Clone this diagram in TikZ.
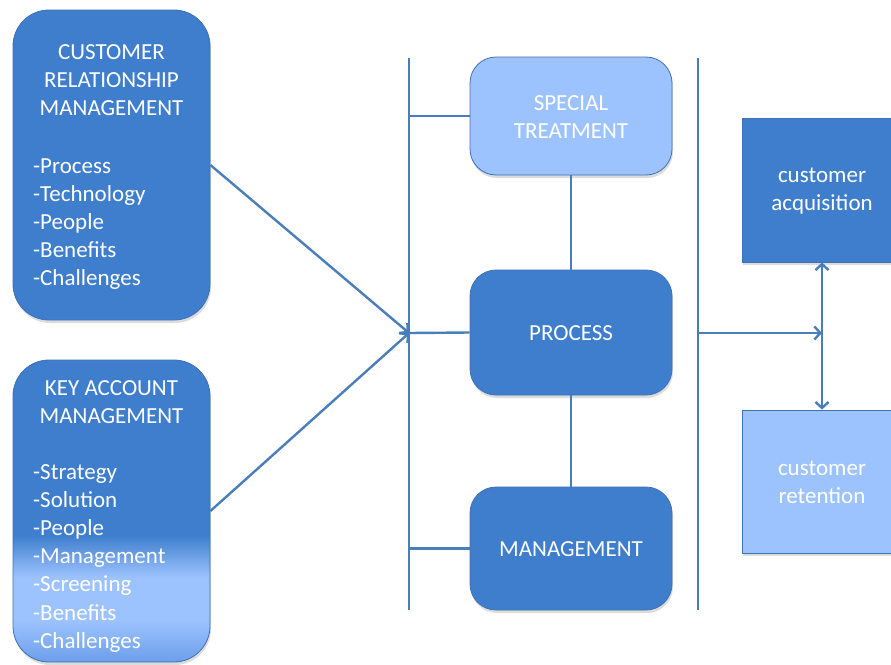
\documentclass[tikz,border=0pt]{standalone}
\usepackage{fontspec}
\setmainfont{Carlito}
\usetikzlibrary{arrows.meta,shadows}
\definecolor{boxdark}{RGB}{62,126,204}
\definecolor{boxlight}{RGB}{157,195,255}
\definecolor{boxmid}{RGB}{108,158,234}
\definecolor{wire}{RGB}{74,126,187}
\definecolor{rim}{RGB}{62,112,182}
% dark top, light band near the bottom, slightly deeper at the very bottom
\pgfdeclareverticalshading{kamshade}{100bp}{color(0bp)=(boxmid); color(25bp)=(boxmid); color(32bp)=(boxlight); color(39bp)=(boxlight); color(46bp)=(boxdark); color(100bp)=(boxdark)}

\begin{document}
\begin{tikzpicture}[x=1pt,y=-1pt,
  lbl/.style={font=\fontsize{23}{28.2}\selectfont, text=white, inner sep=0pt},
  softshadow/.style={drop shadow={opacity=0.28, shadow xshift=1pt, shadow yshift=-3pt}},
  panel/.style={draw=rim, line width=0.8pt, rounded corners=36pt, softshadow,
                minimum width=197pt, inner sep=0pt},
  stage/.style={draw=rim, line width=0.8pt, rounded corners=26pt, softshadow,
                minimum width=202pt, inner sep=0pt},
  outcome/.style={draw=rim, line width=0.8pt, softshadow,
                minimum width=160pt, inner sep=0pt},
  wireline/.style={draw=wire, line width=2.4pt},
  arr/.style={-{Straight Barb[length=6pt,width=13pt]}},
  darr/.style={{Straight Barb[length=6pt,width=13pt]}-{Straight Barb[length=6pt,width=13pt]}},
]
\useasboundingbox (0,0) rectangle (891,664);

% left panels
\node[panel, fill=boxdark, minimum height=310pt] (crm) at (111.5,165) {};
\node[panel, shading=kamshade, minimum height=302pt] (kam) at (111.5,511) {};

% multi-line labels are anchored at the baseline of their last line
\node[lbl, align=center, anchor=base] (crmhead) at (111.5,115.4) {CUSTOMER\\RELATIONSHIP\\MANAGEMENT};
\node[lbl, align=left, anchor=base west] (crmlist) at (33,285.8) {-Process\\-Technology\\-People\\-Benefits\\-Challenges};
\node[lbl, align=center, anchor=base] (kamhead) at (111.5,423.2) {KEY ACCOUNT\\MANAGEMENT};
\node[lbl, align=left, anchor=base west] (kamlist) at (33,648.2) {-Strategy\\-Solution\\-People\\-Management\\-Screening\\-Benefits\\-Challenges};

% middle stages
\node[stage, fill=boxlight, minimum height=118pt] (st) at (571,116) {};
\node[stage, fill=boxdark, minimum height=125pt] (proc) at (571,332.5) {};
\node[stage, fill=boxdark, minimum height=123pt] (mg) at (571,548.5) {};
\node[lbl, align=center, anchor=base] (sttext) at (571,138.2) {SPECIAL\\TREATMENT};
\node[lbl, anchor=base] (proctext) at (571,340) {PROCESS};
\node[lbl, anchor=base] (mgtext) at (571,556) {MANAGEMENT};

% outcomes on the right
\node[outcome, fill=boxdark, minimum height=144pt] (acq) at (822,190) {};
\node[outcome, fill=boxlight, minimum height=143pt] (ret) at (822,481.5) {};
\node[lbl, align=center, anchor=base] (acqtext) at (822,210.2) {customer\\acquisition};
\node[lbl, align=center, anchor=base] (rettext) at (822,503.2) {customer\\retention};

% rails and connectors
\coordinate (lrtop) at (409,58);
\coordinate (lrbot) at (409,610);
\coordinate (rrtop) at (698,58);
\coordinate (rrbot) at (698,610);
\coordinate (hub) at (409,333);

\draw[wireline] (lrtop) -- (lrbot);
\draw[wireline] (rrtop) -- (rrbot);
\draw[wireline] (lrtop |- st.west) -- (st.west);
\draw[wireline] (hub) -- (proc.west);
\draw[wireline] (lrtop |- mg.west) -- (mg.west);
\draw[wireline] (st.south) -- (proc.north);
\draw[wireline] (proc.south) -- (mg.north);
\draw[wireline, arr] (crm.east) -- (hub);
\draw[wireline, arr] (kam.east) -- (hub);
\draw[wireline, arr] (rrtop |- hub) -- (acq.south |- hub);
\draw[wireline, darr] (acq.south) -- (ret.north);
\end{tikzpicture}
\end{document}
